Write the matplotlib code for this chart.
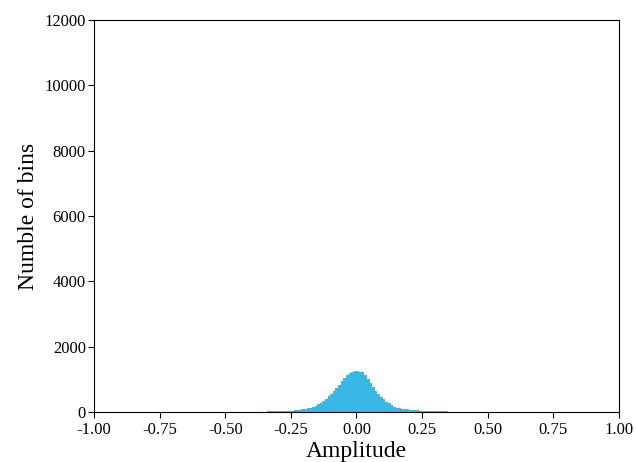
import numpy as np
import matplotlib
matplotlib.use("Agg")
import matplotlib.pyplot as plt

# bins of width 0.01 from -0.5 to 0.5, counts
bin_width = 0.01
bin_left = -0.5
counts = [
    5, 7, 8, 8, 9, 10, 10, 11, 12, 12,
    13, 14, 15, 16, 17, 18, 19, 20, 21, 22,
    24, 28, 32, 36, 41, 46, 52, 60, 70, 82,
    98, 115, 135, 160, 195, 235, 290, 345, 410, 480,
    565, 650, 740, 840, 940, 1040, 1120, 1185, 1230, 1265,
    1255, 1240, 1215, 1150, 1000, 900, 770, 660, 560, 470,
    395, 320, 265, 205, 165, 135, 115, 100, 90, 80,
    72, 65, 58, 52, 46, 42, 38, 34, 30, 27,
    25, 23, 21, 20, 19, 17, 16, 15, 14, 13,
    12, 12, 11, 10, 10, 9, 8, 8, 7, 5,
]
x_ticks = [-1.0, -0.75, -0.5, -0.25, 0.0, 0.25, 0.5, 0.75, 1.0]
y_ticks = [0, 2000, 4000, 6000, 8000, 10000, 12000]

plt.rcParams['font.family'] = ['Liberation Serif', 'DejaVu Serif']

fig = plt.figure(figsize=(6.36, 4.62), dpi=100)
ax = fig.add_axes([0.148, 0.108, 0.825, 0.849])

edges = bin_left + bin_width * np.arange(len(counts))
ax.bar(edges, counts, width=bin_width, align='edge', color='#38b8e4', linewidth=0)

ax.set_xlim(-1, 1)
ax.set_ylim(0, 12000)
ax.set_xticks(x_ticks)
ax.set_xticklabels([f"{t:.2f}" for t in x_ticks])
ax.set_yticks(y_ticks)
ax.tick_params(labelsize=12, length=4, width=0.8)
ax.tick_params(axis='x', pad=3)
ax.tick_params(axis='y', pad=2)
ax.set_xlabel("Amplitude", fontsize=17, labelpad=2)
ax.set_ylabel("Numble of bins", fontsize=17)

fig.savefig("out.png", dpi=100)
